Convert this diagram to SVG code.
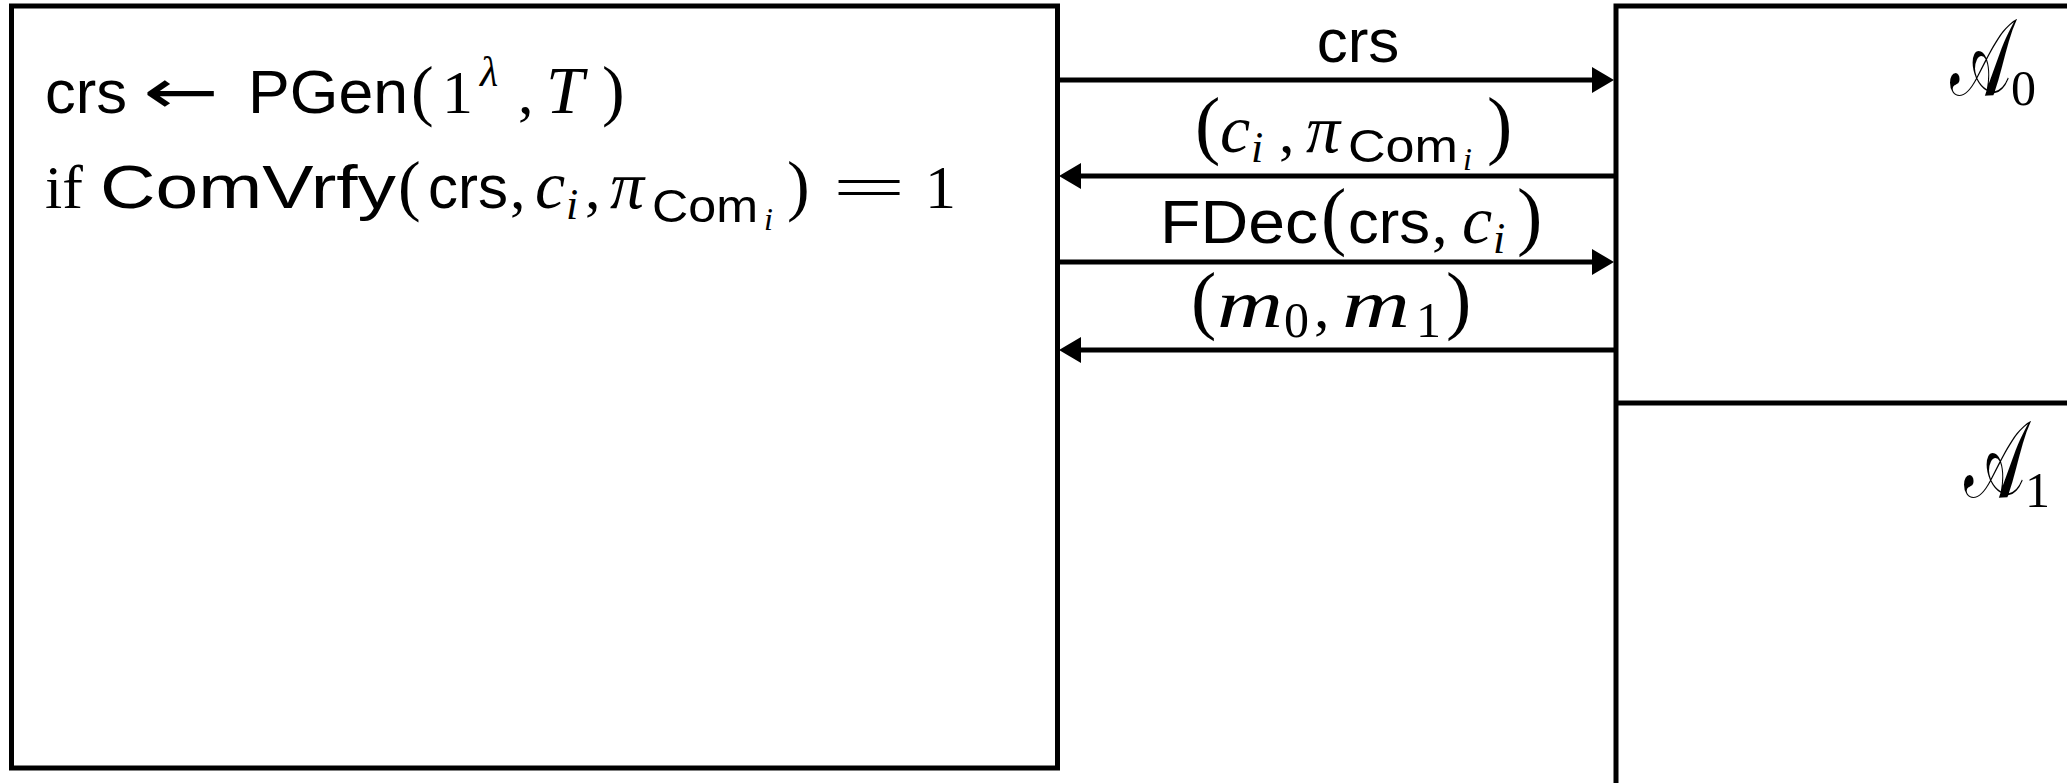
<svg xmlns="http://www.w3.org/2000/svg" width="2067" height="783" viewBox="0 0 2067 783">
<style>
.box{fill:none;stroke:#000;stroke-width:5}
.conn{stroke:#000;stroke-width:5;fill:none}
text{fill:#000}
.sf{font-family:"Liberation Sans",Arial,sans-serif;font-size:62px}
.rm{font-family:"Liberation Serif","Times New Roman",serif;font-size:62px}
.it{font-family:"Liberation Serif","Times New Roman",serif;font-style:italic;font-size:68px}
.par{font-family:"Liberation Serif","Times New Roman",serif;font-size:68px}
.lpar{font-family:"Liberation Serif","Times New Roman",serif;font-size:76px}
.arr{font-family:"DejaVu Sans",sans-serif;font-size:62px}
.sub{font-size:44px}
.sup{font-size:42px}
.csub{font-size:47px}
.dsub{font-size:50px}
.ssub{font-size:32px}
.cal{font-family:"DejaVu Serif","DejaVu Sans",serif;font-size:108px}
</style>
<defs>
<marker id="ah" markerUnits="userSpaceOnUse" markerWidth="24" markerHeight="26" refX="10" refY="13" orient="auto"><path d="M0,0 L22,13 L0,26 z" fill="#000"/></marker>
</defs>

<g id="challenger">
<rect class="box" x="11.5" y="6" width="1046" height="762"/>
<text class="sf" x="45" y="113" textLength="82" lengthAdjust="spacingAndGlyphs">crs</text>
<text class="arr" x="143" y="113" textLength="76" lengthAdjust="spacingAndGlyphs">←</text>
<text class="sf" x="248" y="113" textLength="160" lengthAdjust="spacingAndGlyphs">PGen</text>
<text y="113"><tspan class="par" x="411">(</tspan><tspan class="rm" x="442">1</tspan><tspan class="it sup" x="480" y="86">λ</tspan><tspan class="rm" x="518" y="113">,</tspan><tspan class="it" x="546">T</tspan><tspan class="par" x="602">)</tspan></text>
<text class="rm" x="45" y="208">if</text>
<text class="sf" x="100" y="208" textLength="296" lengthAdjust="spacingAndGlyphs">ComVrfy</text>
<text y="208"><tspan class="par" x="398">(</tspan></text>
<text class="sf" x="428" y="208" textLength="80" lengthAdjust="spacingAndGlyphs">crs</text>
<text y="208"><tspan class="rm" x="510">,</tspan><tspan class="it" x="535">c</tspan><tspan class="it sub" x="566" y="219">i</tspan><tspan class="rm" x="585" y="208">,</tspan><tspan class="it" x="610">π</tspan></text>
<text class="sf csub" x="652" y="222" textLength="106" lengthAdjust="spacingAndGlyphs">Com</text>
<text y="208"><tspan class="it ssub" x="764" y="230">i</tspan><tspan class="par" x="787" y="208">)</tspan><tspan class="rm" x="925">1</tspan></text>
<text class="rm" x="832" y="208" textLength="74" lengthAdjust="spacingAndGlyphs">=</text>
</g>

<g id="adversary">
<rect class="box" x="1616" y="6" width="520" height="820"/>
<line class="box" x1="1618" y1="403" x2="2070" y2="403"/>
<text class="cal" transform="translate(1950,95) scale(0.6,1)">𝒜</text>
<text class="rm dsub" x="2011" y="105">0</text>
<text class="cal" transform="translate(1964,497) scale(0.6,1)">𝒜</text>
<text class="rm dsub" x="2025" y="507">1</text>
</g>

<g id="connectors">
<line class="conn" x1="1058" y1="80" x2="1602" y2="80" marker-end="url(#ah)"/>
<line class="conn" x1="1614" y1="176" x2="1071" y2="176" marker-end="url(#ah)"/>
<line class="conn" x1="1058" y1="262" x2="1602" y2="262" marker-end="url(#ah)"/>
<line class="conn" x1="1614" y1="350" x2="1071" y2="350" marker-end="url(#ah)"/>
<text class="sf" x="1358" y="62" text-anchor="middle">crs</text>
<text y="152"><tspan class="lpar" x="1195" y="150">(</tspan><tspan class="it" x="1220" y="152">c</tspan><tspan class="it sub" x="1251" y="162">i</tspan><tspan class="rm" x="1279" y="152">,</tspan><tspan class="it" x="1306">π</tspan></text>
<text class="sf csub" x="1348" y="162" textLength="110" lengthAdjust="spacingAndGlyphs">Com</text>
<text y="152"><tspan class="it ssub" x="1463" y="170">i</tspan><tspan class="lpar" x="1487" y="150">)</tspan></text>
<text class="sf" x="1160" y="243" textLength="158" lengthAdjust="spacingAndGlyphs">FDec</text>
<text y="243"><tspan class="lpar" x="1321" y="241">(</tspan></text>
<text class="sf" x="1348" y="243" textLength="82" lengthAdjust="spacingAndGlyphs">crs</text>
<text y="243"><tspan class="rm" x="1432">,</tspan><tspan class="it" x="1462">c</tspan><tspan class="it sub" x="1493" y="253">i</tspan><tspan class="lpar" x="1517" y="241">)</tspan></text>
<text y="325"><tspan class="lpar" x="1191">(</tspan></text>
<text class="it" x="1217" y="327" textLength="66" lengthAdjust="spacingAndGlyphs">m</text>
<text y="337"><tspan class="rm dsub" x="1284">0</tspan><tspan class="rm" x="1314" y="327">,</tspan></text>
<text class="it" x="1342" y="327" textLength="68" lengthAdjust="spacingAndGlyphs">m</text>
<text y="337"><tspan class="rm dsub" x="1416">1</tspan><tspan class="lpar" x="1446" y="325">)</tspan></text>
</g>
</svg>
